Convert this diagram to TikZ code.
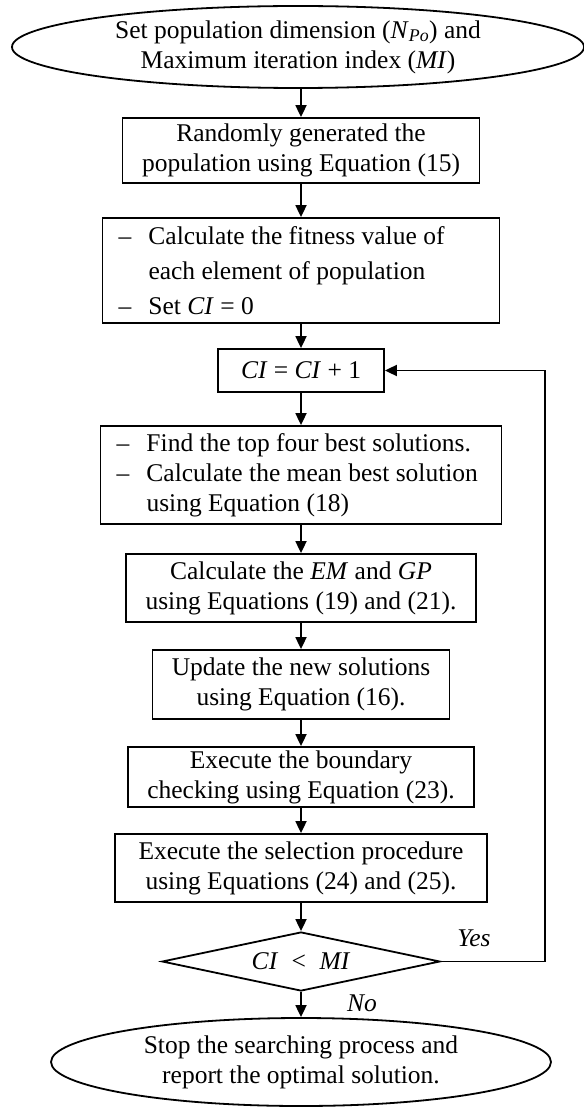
\documentclass[tikz,border=0pt]{standalone}
\usepackage{fontspec}
\setmainfont{Liberation Serif}
\usetikzlibrary{arrows.meta,shapes.geometric}

\newcommand{\dsh}{\makebox[30pt][l]{\textendash}}
\newcommand{\ind}{\hspace*{30pt}}

\begin{document}
\begin{tikzpicture}[x=1pt,y=-1pt,line width=1.8pt,
  font=\fontsize{25.5}{30}\selectfont,
  blk/.style={draw,rectangle,align=flush center,inner sep=0pt},
  lst/.style={draw,rectangle,align=flush left,inner xsep=16pt,inner ysep=0pt},
  term/.style={draw,ellipse,align=flush center,inner sep=0pt},
  dec/.style={draw,diamond,shape aspect=4.7,inner sep=0pt},
  arr/.style={-{Triangle[length=12pt,width=11pt]}},
  lbl/.style={font=\fontsize{25.5}{30}\selectfont\itshape}]
  \useasboundingbox (0,0) rectangle (583,1107);
  \def\ax{301}   % main axis
  % start and stop
  \node[term,minimum width=572pt,minimum height=82pt] (start) at (298,47)
    {Set population dimension (\textit{N}\textsubscript{\textit{Po}}) and\\Maximum iteration index (\textit{MI})};
  \node[term,minimum width=500pt,minimum height=88pt] (stop) at (\ax,1062)
    {Stop the searching process and\\report the optimal solution.};
  % process steps
  \node[blk,minimum width=357pt,minimum height=65pt] (gen) at (\ax,150.5)
    {Randomly generated the\\population using Equation (15)};
  \node[lst,text width=365pt,minimum height=105pt,font=\fontsize{25.5}{35}\selectfont] (fit) at (\ax,270.5)
    {\dsh Calculate the fitness value of\\\ind each element of population\\\dsh Set \textit{CI} = 0};
  \node[blk,minimum width=166pt,minimum height=43pt] (inc) at (\ax,370.5)
    {\textit{CI} = \textit{CI} + 1};
  \node[lst,text width=369pt,minimum height=98pt] (best) at (\ax,475)
    {\dsh Find the top four best solutions.\\\dsh Calculate the mean best solution\\\ind using Equation (18)};
  \node[blk,minimum width=350pt,minimum height=68pt] (emgp) at (\ax,588)
    {Calculate the \textit{EM} and \textit{GP}\\using Equations (19) and (21).};
  \node[blk,minimum width=297pt,minimum height=69pt] (upd) at (\ax,684.5)
    {Update the new solutions\\using Equation (16).};
  \node[blk,minimum width=346pt,minimum height=60pt] (bound) at (\ax,777)
    {Execute the boundary\\checking using Equation (23).};
  \node[blk,minimum width=372pt,minimum height=68pt] (sel) at (\ax,868)
    {Execute the selection procedure\\using Equations (24) and (25).};
  \node[dec,minimum width=278pt,minimum height=59pt] (cond) at (\ax,961.5)
    {\textit{CI} \;<\; \textit{MI}};
  \node[lbl] (yes) at (474,938) {Yes};
  \node[lbl] (no) at (362,1003) {No};
  % connectors
  \draw[arr] (start.south -| gen.north) -- (gen);
  \foreach \a/\b in {gen/fit,fit/inc,inc/best,best/emgp,emgp/upd,upd/bound,bound/sel,sel/cond,cond/stop}
    \draw[arr] (\a) -- (\b);
  \coordinate (back) at (545,961.5);
  \draw[arr] (cond.east) -- (back) |- (inc.east);
\end{tikzpicture}
\end{document}
